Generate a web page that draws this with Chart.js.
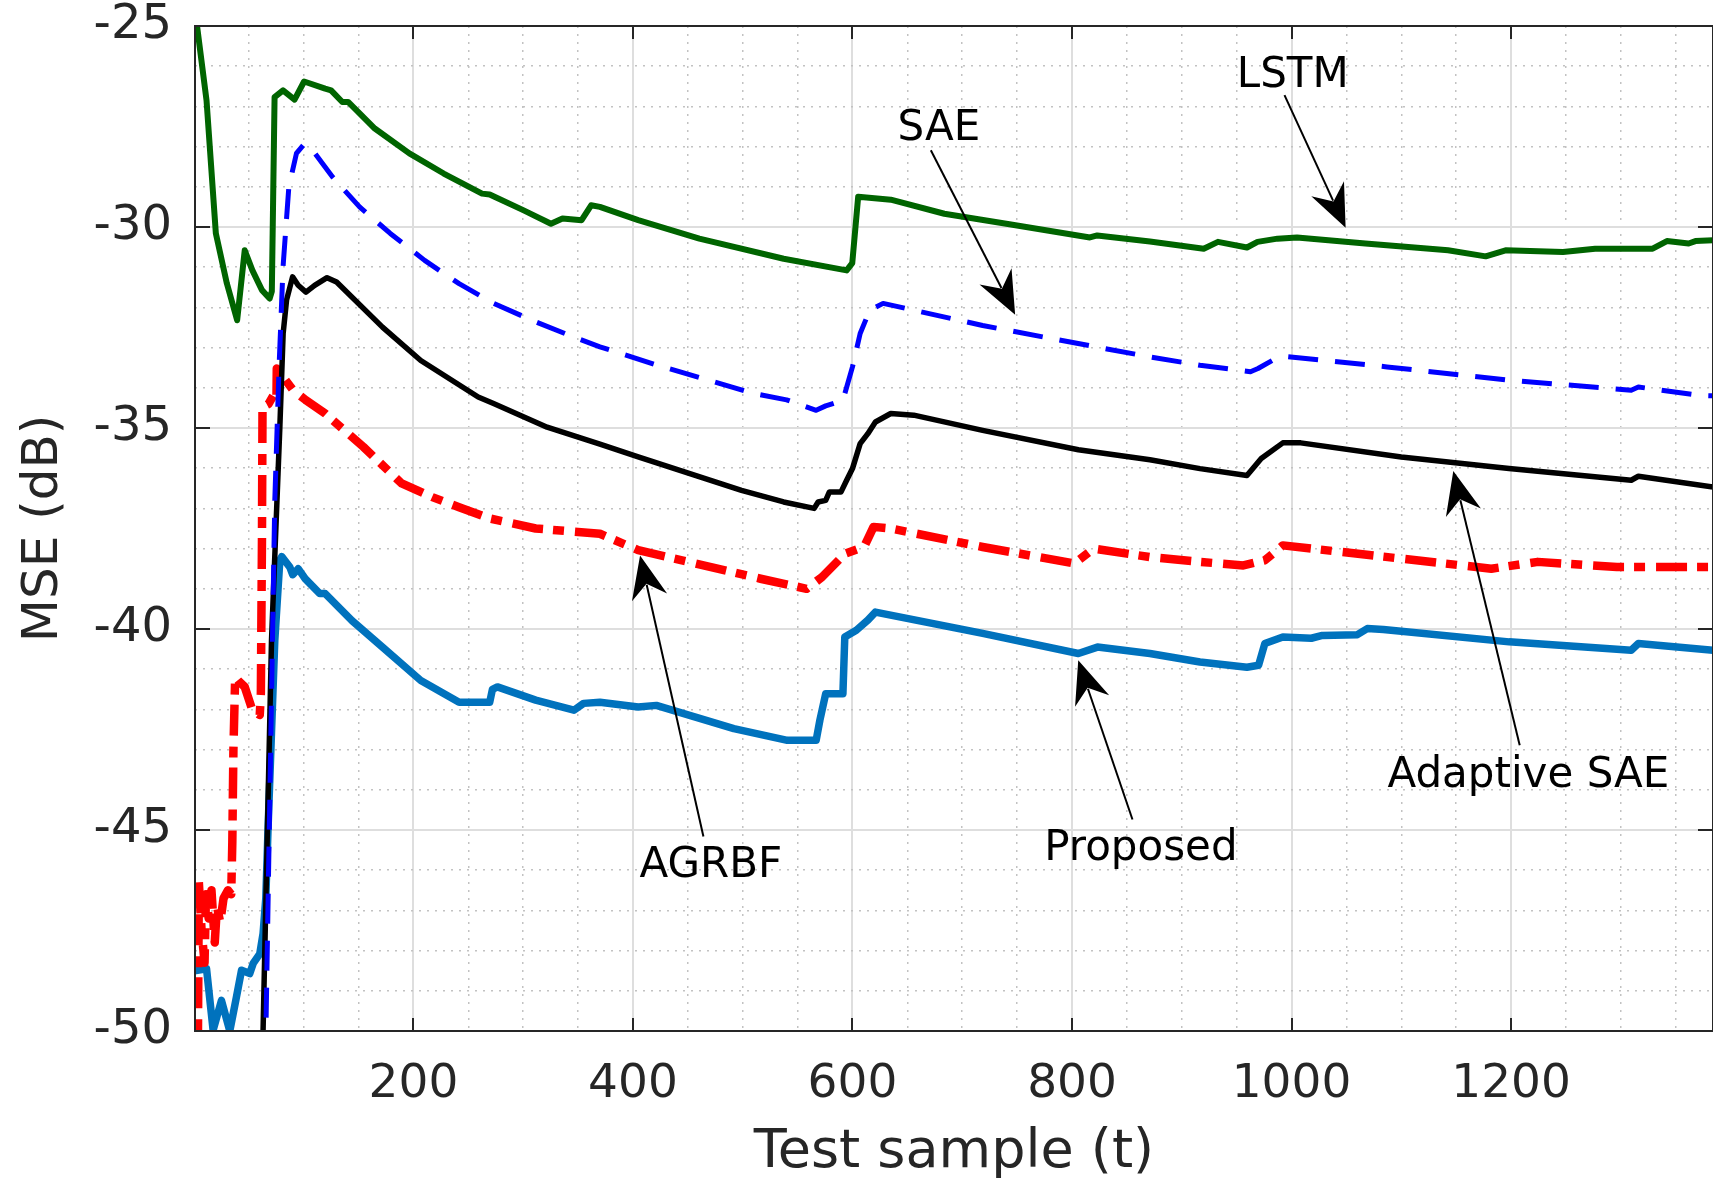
<!DOCTYPE html>
<html>
<head>
<meta charset="utf-8">
<script src="https://cdn.jsdelivr.net/npm/chart.js@4.4.1/dist/chart.umd.min.js"></script>
<style>
    body { margin: 0; background: #fff; }
    canvas { display: block; }
</style>
</head>
<body>
<canvas id="mseChart" width="1713" height="1180"></canvas>
<script>
// 刻度
const xMajorTicks = [200, 400, 600, 800, 1000, 1200];
const xGridTicks = [50, 100, 150, 200, 250, 300, 350, 400, 450, 500, 550, 600, 650, 700,
    750, 800, 850, 900, 950, 1000, 1050, 1100, 1150, 1200, 1250, 1300, 1350];
const yMajorTicks = [-50, -45, -40, -35, -30, -25];
const yGridTicks = [-50, -49, -48, -47, -46, -45, -44, -43, -42, -41, -40, -39, -38, -37,
    -36, -35, -34, -33, -32, -31, -30, -29, -28, -27, -26, -25];

// LSTM
const lstmT = [1, 11.5, 20, 30, 39.4, 46.3, 53.3, 62, 69, 71, 73.5, 81.2, 91.7, 100.4, 119.6, 125,
    135.2, 140.5, 164.8, 196.3, 227.6, 262.5, 269.5, 300, 325.3, 335.8, 353.2, 361.9, 369.9,
    404.8, 460.5, 537.3, 594.7, 599.8, 605.2, 634.9, 683.7, 743, 816.3, 823, 871, 920, 933,
    959.4, 969, 987.2, 1005, 1067.3, 1142.6, 1176.9, 1195, 1247.3, 1276.6, 1329, 1342, 1361.8,
    1368, 1384];
const lstmMse = [-24.6, -26.85, -30.16, -31.4, -32.32, -30.58, -31.08, -31.57, -31.78, -31.6,
    -26.77, -26.6, -26.83, -26.38, -26.56, -26.6, -26.89, -26.89, -27.55, -28.17, -28.67,
    -29.17, -29.19, -29.58, -29.92, -29.79, -29.83, -29.46, -29.5, -29.83, -30.29, -30.79,
    -31.08, -30.9, -29.25, -29.32, -29.67, -29.93, -30.26, -30.21, -30.36, -30.54, -30.37,
    -30.51, -30.37, -30.29, -30.26, -30.41, -30.58, -30.73, -30.58, -30.62, -30.54, -30.54,
    -30.35, -30.41, -30.35, -30.33];

// SAE
const saeT = [60, 65.6, 73.7, 77.7, 81.2, 86.5, 93.4, 100.3, 105.7, 126.5, 150.9, 178.9, 210.2,
    241.6, 273, 311.4, 346.2, 369.9, 422.2, 464, 509.4, 540, 566.9, 575.6, 591.3, 600, 607,
    615.7, 627.9, 718.6, 823.2, 871, 916.6, 962.6, 969.5, 985.6, 995.3, 1087, 1198.2, 1309.5,
    1316, 1371.6, 1384];
const saeMse = [-52, -50, -36.8, -33.4, -31, -29, -28.17, -27.94, -28.0, -28.76, -29.5, -30.16,
    -30.83, -31.41, -31.9, -32.36, -32.74, -32.98, -33.44, -33.77, -34.14, -34.3, -34.56,
    -34.45, -34.31, -33.48, -32.65, -32.07, -31.9, -32.45, -32.99, -33.23, -33.44, -33.6,
    -33.52, -33.27, -33.22, -33.48, -33.81, -34.06, -33.98, -34.19, -34.2];

// Adaptive SAE
const adaptiveT = [60, 63, 70.7, 78.3, 81.3, 84.4, 89.9, 95, 102.1, 110, 121.3, 130, 171.8,
    206.7, 259, 273, 321.8, 369.9, 404.8, 498.9, 537.3, 565.1, 568.7, 575.6, 579, 589.6,
    594.7, 600, 607, 614, 620.9, 634.9, 655.8, 718.6, 805.8, 871, 916.6, 959.4, 965.9, 972.4,
    992.1, 1008.4, 1100, 1198.2, 1309.5, 1316, 1384];
const adaptiveMse = [-52, -50, -40.28, -34.98, -32.65, -31.82, -31.24, -31.45, -31.62, -31.45,
    -31.26, -31.37, -32.49, -33.32, -34.23, -34.39, -34.98, -35.4, -35.72, -36.55, -36.84,
    -37.0, -36.84, -36.8, -36.59, -36.59, -36.3, -36.01, -35.39, -35.14, -34.85, -34.64,
    -34.68, -35.06, -35.54, -35.79, -36.01, -36.18, -35.97, -35.76, -35.37, -35.37, -35.72,
    -36.01, -36.3, -36.2, -36.47];

// AGRBF
const agrbfT = [3.5, 4.5, 7, 9.7, 11, 13.5, 16, 19, 21, 24, 27, 31, 34, 35, 36, 37.6, 40.3,
    46.3, 53.3, 60, 61, 62, 62.5, 68, 72.2, 75.2, 75.5, 81.3, 90.4, 102.1, 119.6, 154.4,
    189.3, 217.2, 241.6, 269.5, 311.4, 369.9, 404.8, 457, 516.3, 558.2, 572.2, 593.1, 610.5,
    619.2, 634.9, 718.6, 802.3, 819.7, 871, 916.6, 956.1, 975.7, 992.1, 1100, 1182, 1224.4,
    1296.4, 1384];
const agrbfMse = [-51, -46.3, -47.5, -48.3, -46.6, -47.2, -46.5, -47.8, -46.9, -47.3, -46.7,
    -46.5, -46.6, -45.3, -43, -41.19, -41.28, -41.44, -42.02, -42.14, -41.6, -37.8, -34.48,
    -34.4, -34.2, -34.31, -33.52, -33.73, -34.06, -34.31, -34.64, -35.47, -36.38, -36.72,
    -36.97, -37.25, -37.5, -37.63, -38.04, -38.37, -38.75, -39.0, -38.71, -38.13, -37.96,
    -37.46, -37.5, -37.96, -38.37, -38.0, -38.21, -38.33, -38.42, -38.29, -37.92, -38.25,
    -38.5, -38.33, -38.46, -38.46];

// Proposed
const proposedT = [0.5, 11.5, 17.5, 25.1, 32.7, 38.8, 43.4, 50.9, 54, 60, 63, 65.5, 67.6, 73.7,
    78.3, 80, 87.4, 90, 95, 101.4, 114.7, 119.6, 144, 171.8, 206.7, 241.6, 269.5, 272, 276.5,
    311.4, 346.2, 355, 369.9, 404.8, 421.3, 491.9, 540.7, 566.9, 570.3, 575.6, 591.3, 593,
    603.5, 614, 620.9, 718.6, 805.8, 823.2, 871, 916.6, 959.4, 970, 975.7, 992.1, 1018,
    1028.1, 1060, 1069, 1083.7, 1198.2, 1309.5, 1316, 1384];
const proposedMse = [-48.5, -48.45, -49.98, -49.24, -50, -49.15, -48.49, -48.57, -48.32, -48.08,
    -47.58, -46.7, -44.93, -40.28, -38.29, -38.2, -38.46, -38.65, -38.5, -38.75, -39.12,
    -39.12, -39.79, -40.45, -41.28, -41.82, -41.82, -41.5, -41.44, -41.77, -42.02, -41.85,
    -41.82, -41.94, -41.9, -42.48, -42.77, -42.77, -42.27, -41.61, -41.61, -40.2, -40.03,
    -39.78, -39.58, -40.11, -40.61, -40.45, -40.61, -40.82, -40.95, -40.9, -40.36, -40.2,
    -40.23, -40.16, -40.14, -39.99, -40.01, -40.32, -40.53, -40.36, -40.53];

// 標註 (資料座標): 文字中心/基線, 箭頭尾端, 箭頭尖端
const notes = [
    { text: 'SAE', x: 678.7, y: -27.84, fromX: 671.4, fromY: -28.09, toX: 748.2, toY: -32.18 },
    { text: 'LSTM', x: 1001.1, y: -26.52, fromX: 993.6, fromY: -26.72, toX: 1049.3, toY: -30.02 },
    { text: 'Adaptive SAE', x: 1215.8, y: -43.94, fromX: 1207.9, fromY: -42.89, toX: 1147.4, toY: -36.07 },
    { text: 'Proposed', x: 862.8, y: -45.75, fromX: 855.1, fromY: -44.74, toX: 805.7, toY: -40.78 },
    { text: 'AGRBF', x: 471.0, y: -46.18, fromX: 464.2, fromY: -45.16, toX: 406.5, toY: -38.17 }
];

const AXIS_COLOR = '#262626';
Chart.defaults.font.family = "'DejaVu Sans', 'Liberation Sans', sans-serif";

function toPoints(ts, values) {
    return ts.map((t, i) => ({ x: t, y: values[i] }));
}

function makeSeries(label, ts, values, color, width, dash) {
    return {
        label: label,
        data: toPoints(ts, values),
        borderColor: color,
        borderWidth: width,
        borderDash: dash || [],
        borderJoinStyle: 'round',
        pointRadius: 0,
        tension: 0,
        fill: false,
        clip: 0
    };
}

function drawArrowHead(ctx, x1, y1, x2, y2) {
    const ang = Math.atan2(y2 - y1, x2 - x1);
    const len = 43, half = 18, notch = 29;
    const c = Math.cos(ang), s = Math.sin(ang);
    ctx.beginPath();
    ctx.moveTo(x2, y2);
    ctx.lineTo(x2 - len * c - half * s, y2 - len * s + half * c);
    ctx.lineTo(x2 - notch * c, y2 - notch * s);
    ctx.lineTo(x2 - len * c + half * s, y2 - len * s - half * c);
    ctx.closePath();
    ctx.fill();
}

// 外框、內側刻度、標註箭頭
const framePlugin = {
    id: 'framePlugin',
    afterDatasetsDraw(chart) {
        const { ctx, chartArea: a, scales: { x, y } } = chart;
        ctx.save();
        ctx.strokeStyle = AXIS_COLOR;
        ctx.lineWidth = 2;
        ctx.strokeRect(a.left, a.top, a.right - a.left, a.bottom - a.top);

        ctx.beginPath();
        xMajorTicks.forEach(v => {
            const px = Math.round(x.getPixelForValue(v));
            ctx.moveTo(px, a.bottom); ctx.lineTo(px, a.bottom - 13);
            ctx.moveTo(px, a.top); ctx.lineTo(px, a.top + 13);
        });
        yMajorTicks.forEach(v => {
            const py = Math.round(y.getPixelForValue(v));
            ctx.moveTo(a.left, py); ctx.lineTo(a.left + 15, py);
            ctx.moveTo(a.right, py); ctx.lineTo(a.right - 15, py);
        });
        ctx.stroke();

        ctx.fillStyle = '#000';
        ctx.strokeStyle = '#000';
        ctx.lineWidth = 2;
        ctx.font = "42px 'DejaVu Sans'";
        ctx.textAlign = 'center';
        ctx.textBaseline = 'alphabetic';
        notes.forEach(n => {
            const fx = x.getPixelForValue(n.fromX), fy = y.getPixelForValue(n.fromY);
            const tx = x.getPixelForValue(n.toX), ty = y.getPixelForValue(n.toY);
            const ang = Math.atan2(ty - fy, tx - fx);
            ctx.beginPath();
            ctx.moveTo(fx, fy);
            ctx.lineTo(tx - 30 * Math.cos(ang), ty - 30 * Math.sin(ang));
            ctx.stroke();
            drawArrowHead(ctx, fx, fy, tx, ty);
            ctx.fillText(n.text, x.getPixelForValue(n.x), y.getPixelForValue(n.y));
        });
        ctx.restore();
    }
};

function gridColor(majors) {
    return c => (c.tick && majors.includes(c.tick.value)) ? '#dedede' : '#c2c2c2';
}
function gridWidth(majors) {
    return c => (c.tick && majors.includes(c.tick.value)) ? 2 : 1.5;
}
function gridDash(majors) {
    return c => (!c.tick || majors.includes(c.tick.value)) ? [] : [2, 6];
}

const ctx = document.getElementById('mseChart').getContext('2d');
new Chart(ctx, {
    type: 'line',
    data: {
        datasets: [
            makeSeries('LSTM', lstmT, lstmMse, '#006400', 6),
            makeSeries('SAE', saeT, saeMse, '#0000ff', 5, [30, 17]),
            makeSeries('Adaptive SAE', adaptiveT, adaptiveMse, '#000000', 5.5),
            makeSeries('AGRBF', agrbfT, agrbfMse, '#ff0000', 8.5, [31, 10, 11, 11]),
            makeSeries('Proposed', proposedT, proposedMse, '#0072bd', 7.5)
        ]
    },
    options: {
        responsive: false,
        animation: false,
        devicePixelRatio: 1,
        layout: { padding: { top: 26, right: 0, bottom: 0, left: 0 } },
        plugins: {
            legend: { display: false },
            tooltip: { enabled: false }
        },
        scales: {
            x: {
                type: 'linear',
                min: 1,
                max: 1384,
                afterBuildTicks: s => { s.ticks = xGridTicks.map(v => ({ value: v })); },
                afterFit: s => { s.height = 149; },
                ticks: {
                    autoSkip: false,
                    maxRotation: 0,
                    padding: 26,
                    color: AXIS_COLOR,
                    font: { size: 47 },
                    callback: v => xMajorTicks.includes(v) ? String(v) : ''
                },
                grid: {
                    drawTicks: false,
                    color: gridColor(xMajorTicks),
                    lineWidth: gridWidth(xMajorTicks)
                },
                border: { display: false, dash: gridDash(xMajorTicks) },
                title: {
                    display: true,
                    text: 'Test sample (t)',
                    color: AXIS_COLOR,
                    font: { size: 54, lineHeight: 1 },
                    padding: { top: 0, bottom: 0 }
                }
            },
            y: {
                type: 'linear',
                min: -50,
                max: -25,
                afterBuildTicks: s => { s.ticks = yGridTicks.map(v => ({ value: v })); },
                afterFit: s => {
                    s.width = 195;
                    s.paddingTop = 0;
                    s.paddingBottom = 0;
                },
                ticks: {
                    autoSkip: false,
                    padding: 23,
                    color: AXIS_COLOR,
                    font: { size: 48 },
                    callback: v => yMajorTicks.includes(v) ? String(v) : ''
                },
                grid: {
                    drawTicks: false,
                    color: gridColor(yMajorTicks),
                    lineWidth: gridWidth(yMajorTicks)
                },
                border: { display: false, dash: gridDash(yMajorTicks) },
                title: {
                    display: true,
                    text: 'MSE (dB)',
                    color: AXIS_COLOR,
                    font: { size: 50 },
                    padding: { top: 14, bottom: 0 }
                }
            }
        }
    },
    plugins: [framePlugin]
});
</script>
</body>
</html>
